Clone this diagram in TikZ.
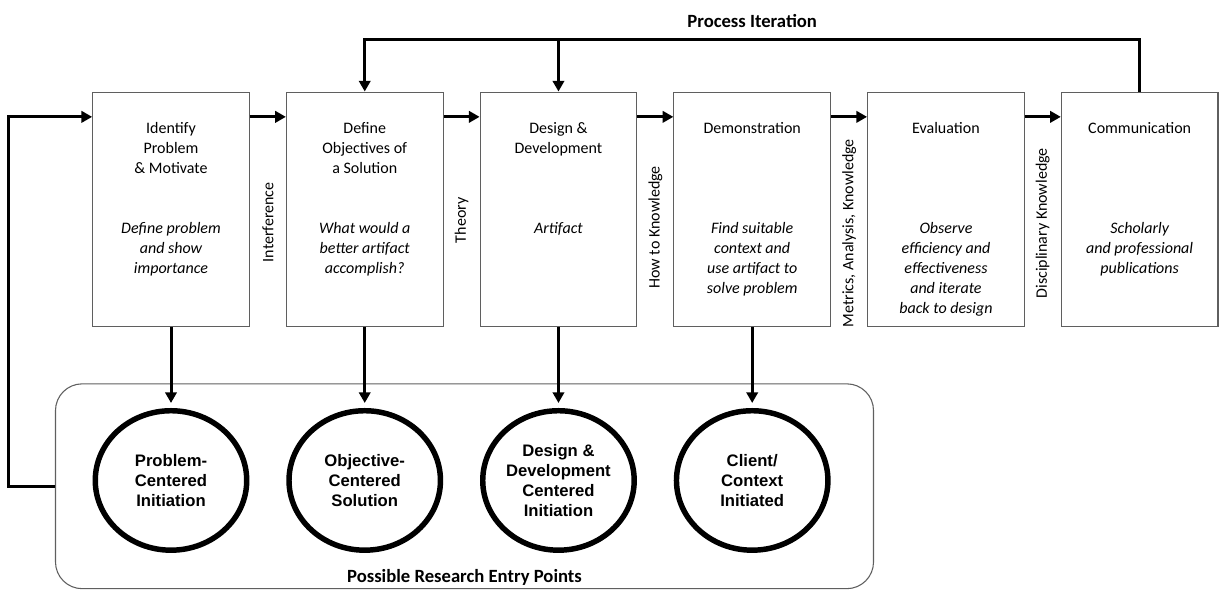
\documentclass[tikz,border=0pt]{standalone}
\usepackage{fontspec}
\setmainfont{Carlito}
\newfontfamily\arialfont{Liberation Sans}
\usepackage{tikz}
\usetikzlibrary{arrows.meta,positioning,calc,shapes.geometric}
\definecolor{framegray}{RGB}{95,95,95}

\tikzset{
    stage/.style={draw=framegray, line width=0.8pt, minimum width=117.5pt, minimum height=175.8pt, inner sep=0pt},
    stagetitle/.style={align=center, inner sep=0pt, font=\fontsize{12}{15}\selectfont},
    task/.style={align=center, inner sep=0pt, font=\fontsize{12}{15}\selectfont\itshape},
    start/.style={ellipse, draw, line width=4.1pt, minimum width=113.6pt, minimum height=104.6pt, inner sep=0pt, align=center, font=\arialfont\bfseries\fontsize{12.5}{15}\selectfont},
    entries/.style={draw=framegray, line width=0.8pt, rounded corners=20pt, minimum width=613.5pt, minimum height=153.6pt},
    flow/.style={line width=2.25pt, -{Triangle[length=8pt,width=8.5pt]}},
    side/.style={rotate=90, inner sep=0pt, font=\fontsize{12}{15}\selectfont},
    heading/.style={inner sep=0pt, font=\bfseries\fontsize{14}{17}\selectfont}
}

\begin{document}
\begin{tikzpicture}[x=0.75pt,y=-0.75pt]
    \useasboundingbox (0,0) rectangle (1219,590);

    % Process steps
    \node[stage] (s1) at (171,209.25) {};
    \node[stage, right=27pt of s1] (s2) {};
    \node[stage, right=27pt of s2] (s3) {};
    \node[stage, right=27pt of s3] (s4) {};
    \node[stage, right=27pt of s4] (s5) {};
    \node[stage, right=27pt of s5] (s6) {};

    \node[stagetitle, below=23.25pt of s1.north] (t1) {Identify\\Problem\\\& Motivate};
    \node[stagetitle, below=23.25pt of s2.north] (t2) {Define\\Objectives of\\a Solution};
    \node[stagetitle, below=23.25pt of s3.north] (t3) {Design \&\\Development};
    \node[stagetitle, below=23.25pt of s4.north] (t4) {Demonstration};
    \node[stagetitle, below=23.25pt of s5.north] (t5) {Evaluation};
    \node[stagetitle, below=23.25pt of s6.north] (t6) {Communication};

    \node[task, below=98pt of s1.north] (d1) {Define problem\\and show\\importance};
    \node[task, below=98pt of s2.north] (d2) {What would a\\better artifact\\accomplish?};
    \node[task, below=98pt of s3.north] (d3) {Artifact};
    \node[task, below=98pt of s4.north] (d4) {Find suitable\\context and\\use artifact to\\solve problem};
    \node[task, below=98pt of s5.north] (d5) {Observe\\efficiency and\\effectiveness\\and iterate\\back to design};
    \node[task, below=98pt of s6.north] (d6) {Scholarly\\and professional\\publications};

    % Flow between steps
    \foreach \a/\b/\dy/\txt in {s1/s2/13/Interference, s2/s3/11/Theory, s3/s4/18/How to Knowledge,
                                s4/s5/24/{Metrics, Analysis, Knowledge}, s5/s6/14/Disciplinary Knowledge} {
        \draw[flow] ([yshift=-19pt]\a.north east) -- ([yshift=-19pt]\b.north west);
        \node[side] (lab\a) at ($(\a.east)!0.5!(\b.west)+(0,\dy)$) {\txt};
    }

    % Process iteration
    \coordinate (iter) at ($(s6.north)+(0,-52)$);
    \draw[flow] (s6.north) -- (iter) -| (s2.north);
    \draw[flow] (s3.north |- iter) -- (s3.north);
    \node[heading] (pi) at ($(s4.north |- iter)+(0,-19)$) {Process Iteration};

    % Entry points
    \node[entries] (pts) at (464.5,486.25) {};
    \node[start, below=60.75pt of s1] (e1) {Problem-\\Centered\\Initiation};
    \node[start, below=60.75pt of s2] (e2) {Objective-\\Centered\\Solution};
    \node[start, below=60.75pt of s3] (e3) {Design \&\\Development\\Centered\\Initiation};
    \node[start, below=60.75pt of s4] (e4) {Client/\\Context\\Initiated};
    \foreach \i in {1,...,4}
        \draw[flow, shorten >=3.75pt] (s\i.south) -- (e\i.north);
    \node[heading] (rep) at ($(pts.south)+(0,-12)$) {Possible Research Entry Points};

    % Back to the start
    \draw[flow] (pts.west) -- ++(-46,0) |- ([yshift=-19pt]s1.north west);
\end{tikzpicture}
\end{document}
